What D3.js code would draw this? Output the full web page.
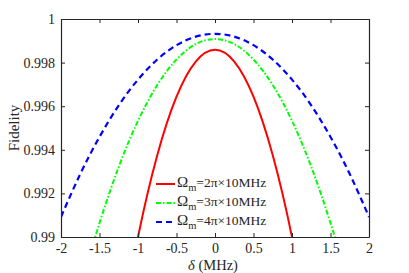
<!DOCTYPE html>
<html><head><meta charset="utf-8">
<script src="https://cdn.jsdelivr.net/npm/d3@7"></script>
<style>body{margin:0;background:#fff}svg{display:block}text{font-family:"Liberation Serif","Times New Roman",serif;fill:#262626}</style>
</head><body><svg id="c" width="409" height="273"></svg>
<script>
const deltas = [-2,-1.75,-1.5,-1.25,-1,-0.75,-0.5,-0.25,0,0.25,0.5,0.75,1,1.25,1.5,1.75,2];
const red   = [0.96419,0.97225,0.97924,0.98515,0.99000,0.99375,0.99644,0.99805,0.99859,0.99805,0.99644,0.99375,0.99000,0.98515,0.97924,0.97225,0.96419];
const green = [0.98408,0.98760,0.99064,0.99322,0.99533,0.99697,0.99814,0.99885,0.99908,0.99885,0.99814,0.99697,0.99533,0.99322,0.99064,0.98760,0.98408];
const blue  = [0.99092,0.99289,0.99459,0.99604,0.99722,0.99814,0.99880,0.99919,0.99932,0.99919,0.99880,0.99814,0.99722,0.99604,0.99459,0.99289,0.99092];
const xTicks = [-2,-1.5,-1,-0.5,0,0.5,1,1.5,2];
const xTickLabels = ["-2","-1.5","-1","-0.5","0","0.5","1","1.5","2"];
const yTicks = [0.99,0.992,0.994,0.996,0.998,1];
const yTickLabels = ["0.99","0.992","0.994","0.996","0.998","1"];
const legendNums = ["2","3","4"];

const svg = d3.select("#c");
const L=61, R=369, T=19, B=237;
const x = d3.scaleLinear().domain([-2,2]).range([L,R]);
const y = d3.scaleLinear().domain([0.99,1]).range([B,T]);

svg.append("clipPath").attr("id","cp").append("rect").attr("x",L).attr("y",T).attr("width",R-L).attr("height",B-T);

const series = [
  {v:red, color:"#ff0000", dash:null, w:2},
  {v:green, color:"#00ff00", dash:"5,2,1.5,2", w:2},
  {v:blue, color:"#0000ff", dash:"6,4", w:2.2}
];
const line = d3.line().x(d=>x(d[0])).y(d=>y(d[1])).curve(d3.curveNatural);
const g = svg.append("g").attr("clip-path","url(#cp)");
series.forEach(s=>{
  g.append("path").datum(deltas.map((d,i)=>[d,s.v[i]]))
   .attr("d",line).attr("fill","none").attr("stroke",s.color)
   .attr("stroke-width",s.w).attr("stroke-dasharray",s.dash);
});

// axes
const ax = "#262626";
const axB = svg.append("g").attr("transform",`translate(0,${B})`)
  .call(d3.axisBottom(x).tickValues(xTicks).tickFormat((d,i)=>xTickLabels[i]).tickSizeInner(-4).tickSizeOuter(0).tickPadding(6));
const axT = svg.append("g").attr("transform",`translate(0,${T})`)
  .call(d3.axisTop(x).tickValues(xTicks).tickFormat("").tickSizeInner(-4).tickSizeOuter(0));
const axL = svg.append("g").attr("transform",`translate(${L},0)`)
  .call(d3.axisLeft(y).tickValues(yTicks).tickFormat((d,i)=>yTickLabels[i]).tickSizeInner(-4).tickSizeOuter(0).tickPadding(6));
const axR = svg.append("g").attr("transform",`translate(${R},0)`)
  .call(d3.axisRight(y).tickValues(yTicks).tickFormat("").tickSizeInner(-4).tickSizeOuter(0));
[axB,axT,axL,axR].forEach(a=>{
  a.select(".domain").attr("stroke",ax).attr("stroke-width",1.2);
  a.selectAll(".tick line").attr("stroke",ax).attr("stroke-width",1);
  a.selectAll("text").style("font-size","14px").attr("fill",ax).style("font-family","Liberation Serif");
});

// labels
svg.append("text").attr("transform",`translate(19,${(T+B)/2}) rotate(-90)`)
  .attr("text-anchor","middle").style("font-size","15px").text("Fidelity");
const xl = svg.append("text").attr("x",(L+R)/2 - 2).attr("y",270).attr("text-anchor","middle").style("font-size","14.5px");
xl.append("tspan").style("font-style","italic").text("δ");
xl.append("tspan").text(" (MHz)");

// legend
const legY = [184,203,222];
series.forEach((s,i)=>{
  svg.append("line").attr("x1",156).attr("x2",175).attr("y1",legY[i]).attr("y2",legY[i])
    .attr("stroke",s.color).attr("stroke-width",s.w).attr("stroke-dasharray",s.dash);
  const t = svg.append("text").attr("x",177).attr("y",legY[i]+3).style("font-size","13.5px");
  t.append("tspan").style("font-size","15px").text("Ω");
  t.append("tspan").attr("dy",4).style("font-size","10.5px").text("m");
  t.append("tspan").attr("dy",-4).text("=" + legendNums[i] + "π×10MHz");
});
</script></body></html>
